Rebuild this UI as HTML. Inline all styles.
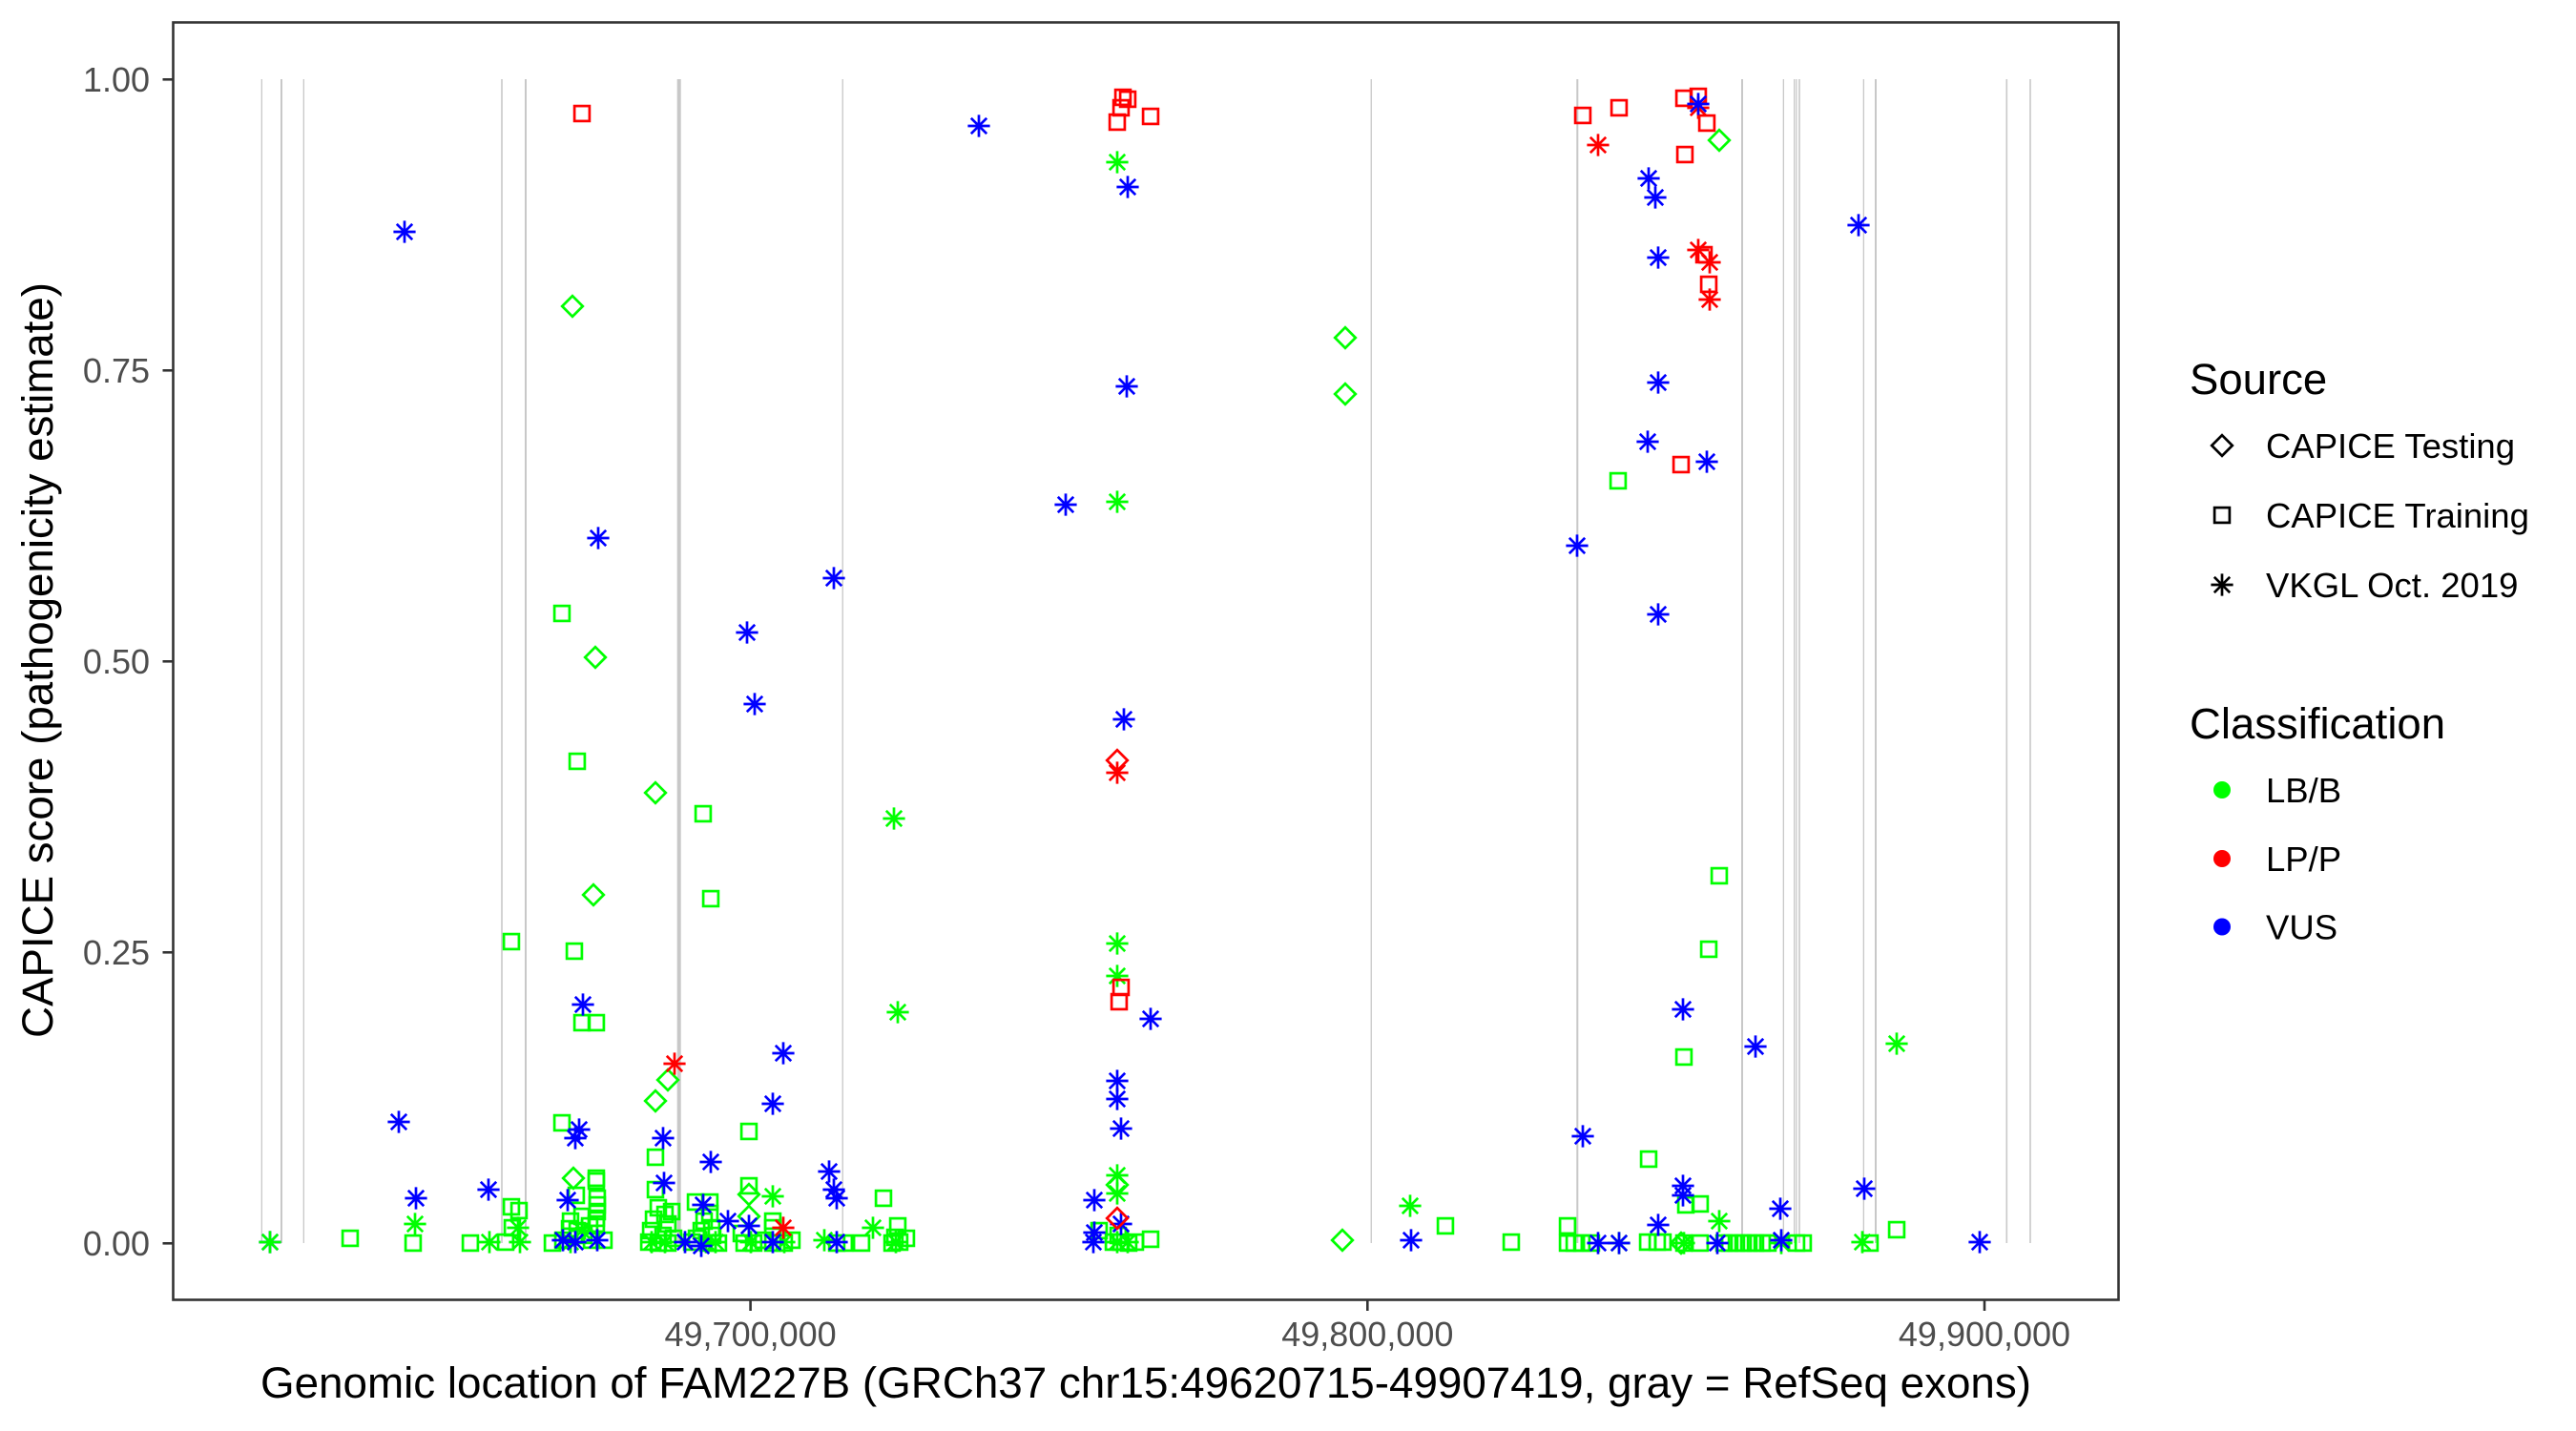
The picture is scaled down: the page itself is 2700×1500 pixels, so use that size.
<!DOCTYPE html>
<html>
<head>
<meta charset="utf-8">
<style>
  html, body { margin: 0; padding: 0; background: #ffffff; }
  svg { display: block; }
  text { font-family: "Liberation Sans", Arial, Helvetica, sans-serif; }
</style>
</head>
<body>
<svg xmlns="http://www.w3.org/2000/svg" xmlns:xlink="http://www.w3.org/1999/xlink" width="2700" height="1500" viewBox="0 0 2700 1500">
  <defs>
    <path id="d" d="M0,-10.8 L10.8,0 L0,10.8 L-10.8,0Z"/>
    <rect id="s" x="-7.9" y="-7.9" width="15.8" height="15.8"/>
    <path id="a" d="M0,-11.6V11.6M-11.6,0H11.6M-8.2,-8.2L8.2,8.2M-8.2,8.2L8.2,-8.2"/>
  </defs>
  <rect x="0" y="0" width="2700" height="1500" fill="#ffffff"/>

  <!-- exon lines -->
  <g fill="#c8c8c8">
    <rect x="273.7" y="83" width="1.3" height="1220"/>
    <rect x="294" y="83" width="2" height="1220"/>
    <rect x="317.7" y="83" width="1.3" height="1220"/>
    <rect x="525.2" y="83" width="1.6" height="1220"/>
    <rect x="550" y="83" width="2" height="1220"/>
    <rect x="709.7" y="83" width="4" height="1220"/>
    <rect x="882.6" y="83" width="1.3" height="1220"/>
    <rect x="1436.6" y="83" width="1.3" height="1220"/>
    <rect x="1652.3" y="83" width="2" height="1220"/>
    <rect x="1825" y="83" width="2" height="1220"/>
    <rect x="1868.7" y="83" width="1.3" height="1220"/>
    <rect x="1880" y="83" width="1.3" height="1220"/>
    <rect x="1882.2" y="83" width="1.3" height="1220"/>
    <rect x="1885.2" y="83" width="1.6" height="1220"/>
    <rect x="1952.7" y="83" width="1.3" height="1220"/>
    <rect x="1965" y="83" width="2" height="1220"/>
    <rect x="2102.5" y="83" width="1.6" height="1220"/>
    <rect x="2127.2" y="83" width="1.6" height="1220"/>
  </g>

  <!-- GREEN squares -->
  <g stroke="#00ff00" stroke-width="2.7" fill="none">
    <use href="#s" x="589" y="643"/><use href="#s" x="605" y="798"/><use href="#s" x="737" y="853"/>
    <use href="#s" x="745" y="942"/><use href="#s" x="536" y="987"/><use href="#s" x="602" y="997"/>
    <use href="#s" x="610" y="1072"/><use href="#s" x="625" y="1072"/><use href="#s" x="589" y="1177"/>
    <use href="#s" x="687" y="1213"/><use href="#s" x="625" y="1235"/><use href="#s" x="625" y="1238"/>
    <use href="#s" x="687" y="1247"/><use href="#s" x="785" y="1186"/><use href="#s" x="785" y="1243"/>
    <use href="#s" x="926" y="1256"/><use href="#s" x="1765" y="1108"/><use href="#s" x="1791" y="995"/>
    <use href="#s" x="1802" y="918"/><use href="#s" x="1696" y="504"/><use href="#s" x="1728" y="1215"/>
    <use href="#s" x="1767" y="1263"/><use href="#s" x="1782" y="1262"/><use href="#s" x="1643" y="1285"/>
    <use href="#s" x="1988" y="1289"/><use href="#s" x="1515" y="1285"/><use href="#s" x="1584" y="1302"/>
    <use href="#s" x="1152" y="1290"/><use href="#s" x="941" y="1285"/><use href="#s" x="810" y="1280"/>
    <use href="#s" x="810" y="1287"/><use href="#s" x="1206" y="1299"/><use href="#s" x="1960" y="1303"/>
    <use href="#s" x="1883" y="1303"/><use href="#s" x="1890" y="1303"/><use href="#s" x="1765" y="1303"/>
    <use href="#s" x="1782" y="1303"/><use href="#s" x="1727" y="1302"/><use href="#s" x="1737" y="1302"/>
    <use href="#s" x="1743" y="1302"/>
    <use href="#s" x="697" y="1273"/><use href="#s" x="536" y="1265"/><use href="#s" x="544" y="1269"/>
    <use href="#s" x="537" y="1287"/><use href="#s" x="530" y="1302"/><use href="#s" x="367" y="1298"/>
    <use href="#s" x="433" y="1303"/><use href="#s" x="493" y="1303"/><use href="#s" x="579" y="1303"/>
    <use href="#s" x="729" y="1260"/><use href="#s" x="744" y="1260"/><use href="#s" x="744" y="1272"/>
    <use href="#s" x="746" y="1287"/><use href="#s" x="735" y="1290"/>
    <use href="#s" x="604" y="1253"/><use href="#s" x="626" y="1256"/><use href="#s" x="626" y="1263"/>
    <use href="#s" x="626" y="1270"/><use href="#s" x="625" y="1277"/><use href="#s" x="625" y="1283"/>
    <use href="#s" x="597" y="1288"/><use href="#s" x="605" y="1290"/><use href="#s" x="612" y="1295"/>
    <use href="#s" x="590" y="1300"/><use href="#s" x="620" y="1300"/><use href="#s" x="633" y="1300"/>
    <use href="#s" x="598" y="1280"/><use href="#s" x="610" y="1275"/><use href="#s" x="618" y="1285"/>
    <use href="#s" x="690" y="1266"/><use href="#s" x="704" y="1270"/><use href="#s" x="685" y="1278"/>
    <use href="#s" x="700" y="1283"/><use href="#s" x="682" y="1290"/><use href="#s" x="695" y="1295"/>
    <use href="#s" x="706" y="1298"/><use href="#s" x="680" y="1302"/><use href="#s" x="690" y="1303"/>
    <use href="#s" x="700" y="1303"/>
    <use href="#s" x="738" y="1280"/><use href="#s" x="747" y="1295"/><use href="#s" x="725" y="1302"/>
    <use href="#s" x="742" y="1303"/><use href="#s" x="753" y="1303"/><use href="#s" x="730" y="1298"/>
    <use href="#s" x="777" y="1293"/><use href="#s" x="780" y="1303"/><use href="#s" x="790" y="1303"/>
    <use href="#s" x="800" y="1300"/><use href="#s" x="810" y="1303"/><use href="#s" x="822" y="1303"/>
    <use href="#s" x="830" y="1300"/>
    <use href="#s" x="877" y="1303"/><use href="#s" x="885" y="1303"/><use href="#s" x="903" y="1303"/>
    <use href="#s" x="935" y="1303"/><use href="#s" x="943" y="1302"/><use href="#s" x="950" y="1298"/>
    <use href="#s" x="938" y="1297"/>
    <use href="#s" x="1167" y="1302"/><use href="#s" x="1175" y="1302"/><use href="#s" x="1183" y="1303"/>
    <use href="#s" x="1190" y="1302"/><use href="#s" x="1172" y="1295"/>
    <use href="#s" x="1643" y="1303"/><use href="#s" x="1650" y="1303"/><use href="#s" x="1658" y="1303"/>
    <use href="#s" x="1668" y="1303"/>
    <use href="#s" x="1807" y="1303"/><use href="#s" x="1813" y="1303"/><use href="#s" x="1820" y="1303"/>
    <use href="#s" x="1827" y="1303"/><use href="#s" x="1833" y="1303"/><use href="#s" x="1840" y="1303"/>
    <use href="#s" x="1847" y="1303"/><use href="#s" x="1853" y="1303"/>
  </g>

  <!-- GREEN diamonds -->
  <g stroke="#00ff00" stroke-width="2.7" fill="none">
    <use href="#d" x="600" y="321"/><use href="#d" x="624" y="689"/><use href="#d" x="687" y="831"/>
    <use href="#d" x="622" y="938"/><use href="#d" x="1410" y="354"/><use href="#d" x="1410" y="413"/>
    <use href="#d" x="1802" y="147"/><use href="#d" x="700" y="1132"/><use href="#d" x="687" y="1154"/>
    <use href="#d" x="601" y="1235"/><use href="#d" x="785" y="1252"/><use href="#d" x="785" y="1275"/>
    <use href="#d" x="1171" y="1242"/><use href="#d" x="1407" y="1300"/><use href="#d" x="1762" y="1303"/>
  </g>

  <!-- GREEN asterisks -->
  <g stroke="#00ff00" stroke-width="2.7" fill="none">
    <use href="#a" x="1171" y="170"/><use href="#a" x="1171" y="526"/><use href="#a" x="937" y="858"/>
    <use href="#a" x="1171" y="989"/><use href="#a" x="1171" y="1023"/><use href="#a" x="941" y="1061"/>
    <use href="#a" x="1988" y="1094"/><use href="#a" x="1478" y="1264"/><use href="#a" x="1171" y="1232"/>
    <use href="#a" x="1171" y="1251"/><use href="#a" x="810" y="1254"/><use href="#a" x="915" y="1287"/>
    <use href="#a" x="864" y="1300"/><use href="#a" x="939" y="1302"/><use href="#a" x="1802" y="1280"/>
    <use href="#a" x="1952" y="1302"/><use href="#a" x="1867" y="1303"/><use href="#a" x="435" y="1283"/>
    <use href="#a" x="543" y="1287"/><use href="#a" x="513" y="1302"/>
    <use href="#a" x="545" y="1302"/><use href="#a" x="683" y="1302"/><use href="#a" x="697" y="1302"/>
    <use href="#a" x="740" y="1302"/><use href="#a" x="750" y="1302"/><use href="#a" x="787" y="1302"/>
    <use href="#a" x="822" y="1302"/><use href="#a" x="1171" y="1302"/><use href="#a" x="1182" y="1302"/>
    <use href="#a" x="1697" y="1303"/><use href="#a" x="1765" y="1303"/><use href="#a" x="610" y="1290"/>
    <use href="#a" x="598" y="1302"/>
  </g>

  <!-- BLUE asterisks -->
  <g stroke="#0000ff" stroke-width="2.7" fill="none">
    <use href="#a" x="283" y="1302"/>
    <use href="#a" x="424" y="243"/><use href="#a" x="1026" y="132"/><use href="#a" x="1182" y="196"/>
    <use href="#a" x="1181" y="405"/><use href="#a" x="1117" y="529"/><use href="#a" x="627" y="564"/>
    <use href="#a" x="874" y="606"/><use href="#a" x="783" y="663"/><use href="#a" x="791" y="738"/>
    <use href="#a" x="1178" y="754"/><use href="#a" x="1728" y="187"/>
    <use href="#a" x="1735" y="207"/><use href="#a" x="1948" y="236"/><use href="#a" x="1738" y="270"/>
    <use href="#a" x="1738" y="401"/><use href="#a" x="1727" y="463"/><use href="#a" x="1789" y="484"/>
    <use href="#a" x="1653" y="572"/><use href="#a" x="1738" y="644"/><use href="#a" x="1764" y="1058"/>
    <use href="#a" x="1840" y="1097"/><use href="#a" x="1659" y="1191"/><use href="#a" x="1764" y="1243"/>
    <use href="#a" x="1764" y="1253"/><use href="#a" x="1954" y="1246"/><use href="#a" x="1866" y="1267"/>
    <use href="#a" x="1738" y="1284"/><use href="#a" x="1675" y="1303"/><use href="#a" x="1697" y="1303"/>
    <use href="#a" x="1800" y="1303"/><use href="#a" x="1867" y="1300"/><use href="#a" x="2075" y="1302"/>
    <use href="#a" x="611" y="1053"/><use href="#a" x="418" y="1176"/><use href="#a" x="607" y="1184"/>
    <use href="#a" x="603" y="1193"/><use href="#a" x="695" y="1193"/><use href="#a" x="745" y="1218"/>
    <use href="#a" x="696" y="1240"/><use href="#a" x="512" y="1247"/><use href="#a" x="436" y="1256"/>
    <use href="#a" x="595" y="1258"/><use href="#a" x="737" y="1263"/><use href="#a" x="763" y="1280"/>
    <use href="#a" x="821" y="1104"/><use href="#a" x="810" y="1157"/><use href="#a" x="869" y="1228"/>
    <use href="#a" x="874" y="1247"/><use href="#a" x="877" y="1256"/><use href="#a" x="785" y="1285"/>
    <use href="#a" x="877" y="1302"/><use href="#a" x="810" y="1302"/>
    <use href="#a" x="1206" y="1068"/><use href="#a" x="1171" y="1133"/><use href="#a" x="1171" y="1152"/>
    <use href="#a" x="1175" y="1183"/><use href="#a" x="1147" y="1258"/><use href="#a" x="1175" y="1283"/>
    <use href="#a" x="1147" y="1292"/><use href="#a" x="1146" y="1302"/>
    <use href="#a" x="590" y="1300"/><use href="#a" x="603" y="1302"/><use href="#a" x="626" y="1300"/>
    <use href="#a" x="718" y="1302"/><use href="#a" x="735" y="1306"/><use href="#a" x="1479" y="1300"/>
  </g>
  <!-- green asterisk over blue at far left -->
  <g stroke="#00ff00" stroke-width="2.7" fill="none">
    <use href="#a" x="283" y="1302"/>
  </g>

  <!-- RED -->
  <g stroke="#ff0000" stroke-width="2.7" fill="none">
    <use href="#s" x="610" y="119"/><use href="#s" x="1177" y="102"/><use href="#s" x="1182" y="104"/>
    <use href="#s" x="1175" y="113"/><use href="#s" x="1171" y="128"/><use href="#s" x="1206" y="122"/>
    <use href="#s" x="1175" y="1035"/><use href="#s" x="1173" y="1050"/><use href="#s" x="1659" y="121"/>
    <use href="#s" x="1697" y="113"/><use href="#s" x="1765" y="103"/><use href="#s" x="1780" y="101"/>
    <use href="#s" x="1789" y="129"/><use href="#s" x="1766" y="162"/><use href="#s" x="1786" y="267"/>
    <use href="#s" x="1791" y="298"/><use href="#s" x="1762" y="487"/>
    <use href="#a" x="1780" y="113"/><use href="#a" x="1675" y="152"/><use href="#a" x="1780" y="262"/>
    <use href="#a" x="1792" y="275"/><use href="#a" x="1792" y="314"/><use href="#a" x="707" y="1115"/>
    <use href="#a" x="821" y="1287"/><use href="#a" x="1171" y="810"/>
    <use href="#d" x="1171" y="797"/><use href="#d" x="1171" y="1277"/>
  </g>
  <!-- blue on top of red cluster -->
  <g stroke="#0000ff" stroke-width="2.7" fill="none">
    <use href="#a" x="1780" y="109"/>
  </g>

  <!-- panel border -->
  <rect x="181.5" y="23.5" width="2039" height="1339" fill="none" stroke="#333333" stroke-width="2.6"/>

  <!-- y ticks -->
  <g stroke="#333333" stroke-width="2.6">
    <line x1="170.5" y1="83.3" x2="181.5" y2="83.3"/>
    <line x1="170.5" y1="388.3" x2="181.5" y2="388.3"/>
    <line x1="170.5" y1="693.3" x2="181.5" y2="693.3"/>
    <line x1="170.5" y1="998.3" x2="181.5" y2="998.3"/>
    <line x1="170.5" y1="1303.3" x2="181.5" y2="1303.3"/>
    <line x1="786.6" y1="1362.5" x2="786.6" y2="1374" />
    <line x1="1433.3" y1="1362.5" x2="1433.3" y2="1374" />
    <line x1="2080" y1="1362.5" x2="2080" y2="1374" />
  </g>
  <g fill="#4d4d4d" font-size="36" text-anchor="end">
    <text x="157" y="96">1.00</text>
    <text x="157" y="401">0.75</text>
    <text x="157" y="706">0.50</text>
    <text x="157" y="1011">0.25</text>
    <text x="157" y="1316">0.00</text>
  </g>
  <g fill="#4d4d4d" font-size="36" text-anchor="middle">
    <text x="786.6" y="1411">49,700,000</text>
    <text x="1433.3" y="1411">49,800,000</text>
    <text x="2080" y="1411">49,900,000</text>
  </g>

  <!-- axis titles -->
  <text x="1201" y="1465" font-size="45.7" fill="#000" text-anchor="middle" textLength="1856" lengthAdjust="spacingAndGlyphs">Genomic location of FAM227B (GRCh37 chr15:49620715-49907419, gray = RefSeq exons)</text>
  <text transform="translate(55,692) rotate(-90)" font-size="45.7" fill="#000" text-anchor="middle" textLength="792" lengthAdjust="spacingAndGlyphs">CAPICE score (pathogenicity estimate)</text>

  <!-- legend -->
  <text x="2295" y="413" font-size="45.5" fill="#000">Source</text>
  <g stroke="#000" stroke-width="2.7" fill="none">
    <use href="#d" x="2329" y="467"/>
    <use href="#s" x="2329" y="540"/>
    <use href="#a" x="2329" y="613"/>
  </g>
  <g font-size="36.5" fill="#000">
    <text x="2375" y="480">CAPICE Testing</text>
    <text x="2375" y="553">CAPICE Training</text>
    <text x="2375" y="626">VKGL Oct. 2019</text>
  </g>

  <text x="2295" y="774" font-size="45.5" fill="#000">Classification</text>
  <circle cx="2329" cy="828" r="9" fill="#00ff00"/>
  <circle cx="2329" cy="900" r="9" fill="#ff0000"/>
  <circle cx="2329" cy="971.5" r="9" fill="#0000ff"/>
  <g font-size="36.5" fill="#000">
    <text x="2375" y="841">LB/B</text>
    <text x="2375" y="913">LP/P</text>
    <text x="2375" y="984.5">VUS</text>
  </g>
</svg>
</body>
</html>
